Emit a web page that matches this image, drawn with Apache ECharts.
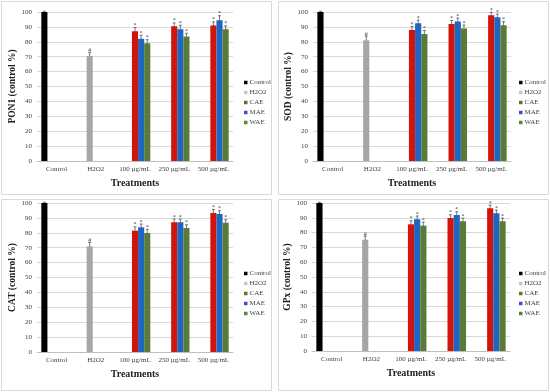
<!DOCTYPE html>
<html>
<head>
<meta charset="utf-8">
<script src="https://cdn.jsdelivr.net/npm/echarts@6/dist/echarts.min.js"></script>
<style>
html,body{margin:0;padding:0;background:#fff;}
#chart{width:550px;height:392px;}
</style>
</head>
<body>
<div id="chart"></div>
<script>
// ---- data ----
const categories = ['Control', 'H2O2', '100 µg/mL', '250 µg/mL', '500 µg/mL'];
const seriesNames = ['Control', 'H2O2', 'CAE', 'MAE', 'WAE'];
const yTicks = [0, 10, 20, 30, 40, 50, 60, 70, 80, 90, 100];
const panelTitles = ['PON1 (control %)', 'SOD (control %)', 'CAT (control %)', 'GPx (control %)'];

const controlValues = [100, null, null, null, null];

const pon1H2O2 = [null, 70.5, null, null, null];
const pon1CAE  = [null, null, 87.0, 90.5, 91.0];
const pon1MAE  = [null, null, 82.0, 88.5, 94.5];
const pon1WAE  = [null, null, 79.0, 83.5, 88.5];

const sodH2O2 = [null, 81.0, null, null, null];
const sodCAE  = [null, null, 87.9, 91.9, 97.8];
const sodMAE  = [null, null, 92.4, 93.7, 96.4];
const sodWAE  = [null, null, 85.2, 89.0, 91.1];

const catH2O2 = [null, 70.9, null, null, null];
const catCAE  = [null, null, 81.4, 87.0, 93.3];
const catMAE  = [null, null, 83.7, 87.0, 92.6];
const catWAE  = [null, null, 79.9, 83.2, 86.8];

const gpxH2O2 = [null, 75.2, null, null, null];
const gpxCAE  = [null, null, 85.6, 89.9, 96.4];
const gpxMAE  = [null, null, 89.0, 91.9, 93.0];
const gpxWAE  = [null, null, 84.7, 87.6, 87.6];

// error bar half-widths (same layout as values)
const pon1Err = [[0.5,null,null,null,null],[null,2.2,null,null,null],[null,null,2.6,2.2,2.4],[null,null,2.4,2.6,3.0],[null,null,2.4,2.2,2.2]];
const sodErr  = [[0.5,null,null,null,null],[null,2.8,null,null,null],[null,null,2.4,2.4,2.0],[null,null,2.2,2.2,2.2],[null,null,2.4,2.2,2.4]];
const catErr  = [[0.5,null,null,null,null],[null,2.6,null,null,null],[null,null,2.6,2.2,2.4],[null,null,2.2,2.2,2.2],[null,null,2.4,2.2,2.0]];
const gpxErr  = [[0.5,null,null,null,null],[null,2.4,null,null,null],[null,null,2.4,2.2,2.2],[null,null,2.2,2.2,2.2],[null,null,2.4,2.2,2.2]];

// ---- styles ----
const barColors    = ['#000000', '#a6a6a6', '#d2150c', '#1f66c2', '#587c38'];
const legendColors = ['#000000', '#c8c8c8', '#7d6424', '#5a40cc', '#4f8a3a'];
const FONT = 'Liberation Serif';
const BAR_GAP_RATIO = 0.22;

const panelSeries = [
  [controlValues, pon1H2O2, pon1CAE, pon1MAE, pon1WAE],
  [controlValues, sodH2O2, sodCAE, sodMAE, sodWAE],
  [controlValues, catH2O2, catCAE, catMAE, catWAE],
  [controlValues, gpxH2O2, gpxCAE, gpxMAE, gpxWAE]
];
const panelErrs = [pon1Err, sodErr, catErr, gpxErr];

const grids = [
  {left: 37, top: 12, width: 196, height: 149},
  {left: 313, top: 12, width: 198, height: 149},
  {left: 37, top: 203, width: 196, height: 149},
  {left: 312, top: 203, width: 198, height: 148}
];
const legendPos = [
  {left: 239, top: 74}, {left: 514, top: 74},
  {left: 239, top: 265}, {left: 514, top: 265}
];
const boxes = [
  [1, 1, 270, 193], [278, 1, 270, 193],
  [1, 199, 270, 191], [278, 199, 270, 191]
];

const xAxes = [], yAxes = [], series = [], legends = [], graphics = [];

panelSeries.forEach((sets, p) => {
  xAxes.push({
    gridIndex: p, type: 'category', data: categories,
    axisLine: {show: true, lineStyle: {color: '#bfbfbf'}},
    axisTick: {show: false},
    axisLabel: {fontFamily: FONT, fontSize: 7, color: '#404040', margin: 5, interval: 0},
    name: 'Treatments', nameLocation: 'middle', nameGap: 17,
    nameTextStyle: {fontFamily: FONT, fontSize: 10, fontWeight: 'bold', color: '#222'}
  });
  yAxes.push({
    gridIndex: p, type: 'value', min: yTicks[0], max: yTicks[yTicks.length - 1], interval: 10,
    axisLine: {show: false}, axisTick: {show: false},
    axisLabel: {fontFamily: FONT, fontSize: 7, color: '#404040', margin: 5},
    splitLine: {lineStyle: {color: '#d9d9d9', width: 1}},
    name: panelTitles[p], nameLocation: 'middle', nameGap: 18, nameRotate: 90,
    nameTextStyle: {fontFamily: FONT, fontSize: 9.5, fontWeight: 'bold', color: '#222'}
  });
  sets.forEach((vals, s) => {
    series.push({
      type: 'bar', name: seriesNames[s], xAxisIndex: p, yAxisIndex: p,
      barGap: '0%', barCategoryGap: (BAR_GAP_RATIO * 100) + '%',
      itemStyle: {color: legendColors[s]},
      data: vals.map(v => v == null ? null : {value: v, itemStyle: {color: barColors[s]}}),
      animation: false
    });
  });
  // error bars + significance marks
  const errData = [], marks = [];
  sets.forEach((vals, s) => {
    vals.forEach((v, c) => {
      const e = panelErrs[p][s][c];
      if (v != null && e != null) {
        errData.push([c, s, v, e]);
        marks.push(s === 0 ? '' : (s === 1 ? '#' : '*'));
      }
    });
  });
  series.push({
    type: 'custom', xAxisIndex: p, yAxisIndex: p, silent: true, animation: false,
    encode: {x: 0, y: 2},
    data: errData,
    renderItem: function (params, api) {
      const c = api.value(0), s = api.value(1), v = api.value(2), e = api.value(3);
      const base = api.coord([c, v]);
      const band = api.size([1, 0])[0];
      const bw = band * (1 - BAR_GAP_RATIO) / 5;
      const x = base[0] + (s - 2) * bw;
      const yT = api.coord([c, v + e])[1];
      const yB = api.coord([c, v - e])[1];
      const st = {stroke: '#555', lineWidth: 0.8};
      const children = [
        {type: 'line', shape: {x1: x, y1: yT, x2: x, y2: yB}, style: st},
        {type: 'line', shape: {x1: x - 1.5, y1: yT, x2: x + 1.5, y2: yT}, style: st},
        {type: 'line', shape: {x1: x - 1.5, y1: yB, x2: x + 1.5, y2: yB}, style: st}
      ];
      const m = marks[params.dataIndex];
      if (m) {
        children.push({type: 'text', style: {text: m, x: x, y: yT + 1, align: 'center', verticalAlign: 'bottom',
          fontSize: 6, fontFamily: FONT, fill: '#444'}});
      }
      return {type: 'group', children: children};
    }
  });
  legends.push({
    orient: 'vertical', left: legendPos[p].left, top: legendPos[p].top,
    data: seriesNames, icon: 'rect', itemWidth: 3.5, itemHeight: 3.5, itemGap: 3,
    textStyle: {fontFamily: FONT, fontSize: 7, color: '#404040', padding: [0, 0, 0, -3]},
    selectedMode: false
  });
  const b = boxes[p];
  graphics.push({type: 'rect', shape: {x: b[0] + 0.5, y: b[1] + 0.5, width: b[2], height: b[3]},
    style: {fill: 'none', stroke: '#d9d9d9', lineWidth: 1}, silent: true, z: -1});
});

const chart = echarts.init(document.getElementById('chart'), null, {renderer: 'canvas'});
chart.setOption({
  backgroundColor: '#ffffff',
  animation: false,
  grid: grids,
  xAxis: xAxes,
  yAxis: yAxes,
  legend: legends,
  series: series,
  graphic: graphics
});
</script>
</body>
</html>
